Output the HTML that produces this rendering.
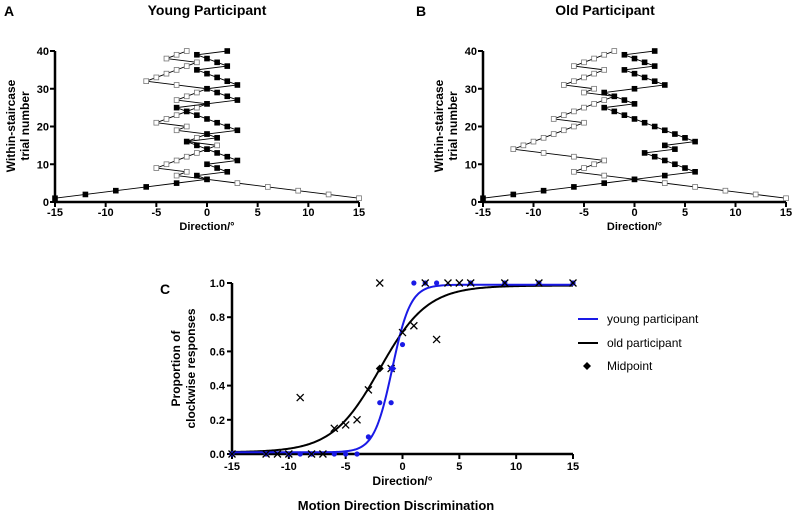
<!DOCTYPE html>
<html><head><meta charset="utf-8"><style>
body{margin:0;background:#fff;width:793px;height:524px;overflow:hidden}
svg{font-family:"Liberation Sans",Arial,sans-serif;}
</style></head><body>
<svg id="fig" width="793" height="524" xmlns="http://www.w3.org/2000/svg">
<text x="4" y="16" font-size="14" font-weight="bold">A</text>
<text x="207" y="15" font-size="14" font-weight="bold" text-anchor="middle">Young Participant</text>
<text x="416" y="16" font-size="14" font-weight="bold">B</text>
<text x="605" y="15" font-size="14" font-weight="bold" text-anchor="middle">Old Participant</text>
<text x="160" y="294" font-size="14" font-weight="bold">C</text>
<text x="396" y="510" font-size="13" font-weight="bold" text-anchor="middle">Motion Direction Discrimination</text>
<g id="gA"></g>
<g id="gB"></g>
<g id="gC"></g>
</svg>
<script>
const trials = Array.from({length:40},(_,i)=>i+1);
const youngOpen = [15,12,9,6,3,0,-3,-2,-5,-4,-3,-2,-1,0,1,-2,-1,0,-3,-2,-5,-4,-3,-2,-1,0,-3,-2,-1,0,-3,-6,-5,-4,-3,-2,-1,-4,-3,-2];
const youngFilled = [-15,-12,-9,-6,-3,0,-1,2,1,0,3,2,1,0,-1,-2,1,0,3,2,1,0,-1,-2,-3,0,3,2,1,0,3,2,1,0,-1,2,1,0,-1,2];
const oldOpen = [15,12,9,6,3,0,-3,-6,-5,-4,-3,-6,-9,-12,-11,-10,-9,-8,-7,-6,-5,-8,-7,-6,-5,-4,-3,-2,-5,-4,-7,-6,-5,-4,-3,-6,-5,-4,-3,-2];
const oldFilled = [-15,-12,-9,-6,-3,0,3,6,5,4,3,2,1,4,3,6,5,4,3,2,1,0,-1,-2,-3,0,-1,-2,-3,0,3,2,1,0,-1,2,1,0,-1,2];
const xTicks = [-15,-10,-5,0,5,10,15];
const yTicksStair = [0,10,20,30,40];
const yTicksProp = [0,0.2,0.4,0.6,0.8,1.0];
const youngX = [-15,-12,-10,-9,-8,-6,-5,-4,-3,-2,-1,0,1,2,3,6,9,12,15];
const youngY = [0,0,0,0,0,0,0,0,0.1,0.3,0.3,0.64,1,1,1,1,1,1,1];
const oldX = [-15,-12,-11,-10,-8,-7,-9,-6,-5,-4,-3,-2,-1,0,1,3,2,4,5,6,9,12,15];
const oldY = [0,0,0,0,0,0,0.33,0.15,0.17,0.2,0.375,1,0.5,0.71,0.75,0.67,1,1,1,1,1,1,1];
const youngFit = [-0.9,0.8,0.01,0.99];
const oldFit = [-2.0,2.1,0.01,0.985];
const midX = [-0.9,-2.0];
const midY = [0.5,0.5];
const NS="http://www.w3.org/2000/svg";
function mk(p,tag,a){const e=document.createElementNS(NS,tag);for(const k in a)e.setAttribute(k,a[k]);p.appendChild(e);return e;}

function stair(gid,x0,x1,open,filled){
  const g=document.getElementById(gid);
  const sx=v=>x0+(v+15)/30*(x1-x0);
  const sy=v=>202-v*3.775;
  let l=mk(g,'line',{x1:x0,y1:202,x2:x1,y2:202,stroke:'#000','stroke-width':2.5});
  
  l=mk(g,'line',{x1:x0,y1:202,x2:x0,y2:sy(40),stroke:'#000','stroke-width':2.5});
  
  xTicks.forEach(t=>{mk(g,'line',{x1:sx(t),y1:202,x2:sx(t),y2:207,stroke:'#000','stroke-width':2});
    const tx=mk(g,'text',{x:sx(t),y:216,'font-size':11,'font-weight':'bold','text-anchor':'middle'});tx.textContent=t;
    });
  yTicksStair.forEach(t=>{mk(g,'line',{x1:x0-5,y1:sy(t),x2:x0,y2:sy(t),stroke:'#000','stroke-width':2});
    const tx=mk(g,'text',{x:x0-6,y:sy(t)+4,'font-size':11,'font-weight':'bold','text-anchor':'end'});tx.textContent=t;
    });
  let t=mk(g,'text',{x:(x0+x1)/2,y:230,'font-size':11,'font-weight':'bold','text-anchor':'middle'});t.textContent='Direction/°';
  
  t=mk(g,'text',{transform:`translate(${x0-38},126) rotate(-90)`,'font-size':12,'font-weight':'bold','text-anchor':'middle'});
  
  const a=mk(t,'tspan',{x:0,dy:-2});a.textContent='Within-staircase';
  const b=mk(t,'tspan',{x:0,dy:14});b.textContent='trial number';
  [[open,'#fff','open-staircase'],[filled,'#000','filled-staircase']].forEach(([d,f,n])=>{
    const pl=mk(g,'polyline',{points:d.map((v,i)=>sx(v)+','+sy(trials[i])).join(' '),fill:'none',stroke:'#000','stroke-width':0.9});
    
    d.forEach((v,i)=>{const r=mk(g,'rect',{x:sx(v)-2.4,y:sy(trials[i])-2.4,width:4.8,height:4.8,fill:f,stroke:f==='#fff'?'#777':'#000','stroke-width':0.8});
      });
  });
}
stair('gA',55,359,youngOpen,youngFilled);
stair('gB',483,786,oldOpen,oldFilled);

(function(){
  const g=document.getElementById('gC');
  const x0=232,x1=573,yb=454,yt=283;
  const sx=v=>x0+(v+15)/30*(x1-x0);
  const sy=v=>yb-v*(yb-yt);
  let l=mk(g,'line',{x1:x0,y1:yb,x2:x1,y2:yb,stroke:'#000','stroke-width':2.5});
  
  l=mk(g,'line',{x1:x0,y1:yb,x2:x0,y2:yt,stroke:'#000','stroke-width':2.5});
  
  xTicks.forEach(t=>{mk(g,'line',{x1:sx(t),y1:yb,x2:sx(t),y2:yb+5,stroke:'#000','stroke-width':2});
    const tx=mk(g,'text',{x:sx(t),y:yb+16,'font-size':11,'font-weight':'bold','text-anchor':'middle'});tx.textContent=t;
    });
  yTicksProp.forEach(t=>{mk(g,'line',{x1:x0-5,y1:sy(t),x2:x0,y2:sy(t),stroke:'#000','stroke-width':2});
    const tx=mk(g,'text',{x:x0-7,y:sy(t)+4,'font-size':11,'font-weight':'bold','text-anchor':'end'});tx.textContent=t.toFixed(1);
    });
  let t=mk(g,'text',{x:(x0+x1)/2,y:yb+31,'font-size':12,'font-weight':'bold','text-anchor':'middle'});t.textContent='Direction/°';
  
  t=mk(g,'text',{transform:`translate(${x0-50},${(yb+yt)/2}) rotate(-90)`,'font-size':12,'font-weight':'bold','text-anchor':'middle'});
  
  mk(t,'tspan',{x:0,dy:-2}).textContent='Proportion of';
  mk(t,'tspan',{x:0,dy:15}).textContent='clockwise responses';
  function curve(p,col,n){const pts=[];for(let x=-15;x<=15.001;x+=0.1){const y=p[2]+(p[3]-p[2])/(1+Math.exp(-(x-p[0])/p[1]));pts.push(sx(x)+','+sy(y));}
    const c=mk(g,'polyline',{points:pts.join(' '),fill:'none',stroke:col,'stroke-width':2});
    }
  curve(oldFit,'#000','old-fit-curve');
  curve(youngFit,'#1a1ae6','young-fit-curve');
  youngX.forEach((x,i)=>{const c=mk(g,'circle',{cx:sx(x),cy:sy(youngY[i]),r:2.6,fill:'#1a1ae6'});
    });
  oldX.forEach((x,i)=>{const X=sx(x),Y=sy(oldY[i]);
    const p=mk(g,'path',{d:`M${X-3.5},${Y-3.5}L${X+3.5},${Y+3.5}M${X-3.5},${Y+3.5}L${X+3.5},${Y-3.5}`,stroke:'#000','stroke-width':1.3});
    });
  const mc=['#1a1ae6','#000'];
  midX.forEach((x,i)=>{const X=sx(x),Y=sy(midY[i]);
    const d=mk(g,'path',{d:`M${X},${Y-4}L${X+4},${Y}L${X},${Y+4}L${X-4},${Y}Z`,fill:mc[i]});
    });
  const lg=mk(g,'g',{});
  let e=mk(lg,'line',{x1:578,y1:319,x2:598,y2:319,stroke:'#1a1ae6','stroke-width':2});
  
  e=mk(lg,'text',{x:607,y:323,'font-size':12});e.textContent='young participant';
  
  e=mk(lg,'line',{x1:578,y1:343,x2:598,y2:343,stroke:'#000','stroke-width':2});
  
  e=mk(lg,'text',{x:607,y:347,'font-size':12});e.textContent='old  participant';
  
  e=mk(lg,'path',{d:'M587,362L591,366L587,370L583,366Z',fill:'#000'});
  
  e=mk(lg,'text',{x:607,y:370,'font-size':12});e.textContent='Midpoint';
  
})();
</script>
</body></html>
